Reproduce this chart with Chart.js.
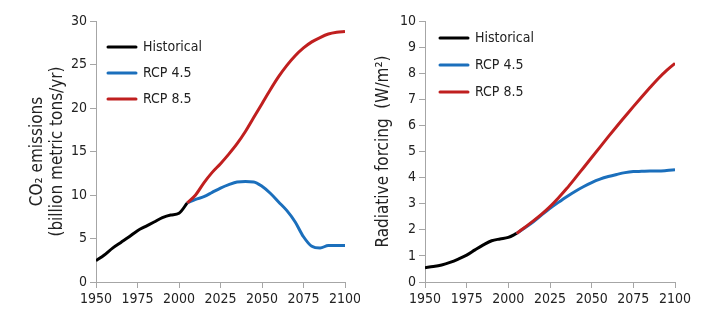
<!DOCTYPE html>
<html>
<head>
<meta charset="utf-8">
<script src="https://cdn.jsdelivr.net/npm/chart.js@4/dist/chart.umd.min.js"></script>
<style>
  body { margin: 0; background: #fff; }
  #wrap { display: flex; width: 710px; height: 321px; }
  canvas { display: block; }
</style>
</head>
<body>
<div id="wrap">
  <canvas id="co2" width="360" height="321"></canvas>
  <canvas id="rf" width="350" height="321"></canvas>
</div>
<script>
// years
var histYears = [1950, 1955, 1960, 1965, 1970, 1975, 1980, 1985, 1990, 1995, 2000, 2005];
var rcpYears = [2005, 2010, 2015, 2020, 2025, 2030, 2035, 2040, 2045, 2050,
                2055, 2060, 2065, 2070, 2075, 2080, 2085, 2090, 2095, 2100];

// CO2 emissions, billion metric tons / yr
var co2Hist = [2.45, 3.1, 3.9, 4.55, 5.2, 5.9, 6.4, 6.9, 7.4, 7.7, 7.9, 9.1];
var co2Rcp45 = [9.1, 9.5, 9.8, 10.3, 10.8, 11.2, 11.5, 11.55, 11.5, 11.0,
                10.2, 9.2, 8.2, 6.9, 5.2, 4.1, 3.9, 4.2, 4.2, 4.2];
var co2Rcp85 = [9.1, 10.0, 11.4, 12.6, 13.6, 14.7, 15.9, 17.3, 18.9, 20.5,
                22.1, 23.6, 24.9, 26.0, 26.9, 27.6, 28.1, 28.5, 28.7, 28.8];

// radiative forcing, W/m2
var rfHist = [0.55, 0.59, 0.65, 0.75, 0.88, 1.03, 1.23, 1.42, 1.58, 1.65, 1.71, 1.86];
var rfRcp45 = [1.86, 2.08, 2.31, 2.57, 2.82, 3.05, 3.27, 3.47, 3.65, 3.81,
               3.94, 4.04, 4.12, 4.19, 4.23, 4.24, 4.25, 4.25, 4.27, 4.30];
var rfRcp85 = [1.86, 2.1, 2.34, 2.6, 2.89, 3.22, 3.58, 3.97, 4.37, 4.77,
               5.17, 5.57, 5.96, 6.34, 6.72, 7.09, 7.45, 7.8, 8.11, 8.38];

var seriesNames = ['Historical', 'RCP 4.5', 'RCP 8.5'];
var seriesColors = ['#000000', '#1b6fbc', '#c01f1f'];
var xTicks = [1950, 1975, 2000, 2025, 2050, 2075, 2100];

var FONT = '"Liberation Sans Narrow", "DejaVu Sans Condensed", "Arial Narrow", sans-serif';
var AXIS = '#a6a6a6';
var TEXT = '#222';

function pts(xs, ys) {
  return xs.map(function (x, i) { return { x: x, y: ys[i] }; });
}

function makeSet(label, i, data) {
  return {
    label: label,
    data: data,
    borderColor: seriesColors[i],
    backgroundColor: seriesColors[i],
    borderWidth: 3,
    pointRadius: 0,
    cubicInterpolationMode: 'monotone',
    fill: false
  };
}

// legend sitting inside the plot, top-left
var insideLegend = {
  id: 'insideLegend',
  afterDraw: function (chart, args, opts) {
    var ctx = chart.ctx;
    var a = chart.chartArea;
    ctx.save();
    ctx.font = '14px ' + FONT;
    ctx.textBaseline = 'middle';
    chart.data.datasets.slice().reverse().forEach(function (ds, i) {
      var y = opts.top + i * opts.gap;
      var x0 = a.left + opts.dx;
      ctx.strokeStyle = ds.borderColor;
      ctx.lineWidth = 3;
      ctx.lineCap = 'round';
      ctx.beginPath();
      ctx.moveTo(x0, y);
      ctx.lineTo(x0 + 28, y);
      ctx.stroke();
      ctx.fillStyle = TEXT;
      ctx.fillText(ds.label, x0 + 35, y);
    });
    ctx.restore();
  }
};

function makeChart(id, sets, yMax, yStep, title, yWidth, padRight, titlePad, legendOpts) {
  return new Chart(document.getElementById(id), {
    type: 'line',
    data: { datasets: sets },
    plugins: [insideLegend],
    options: {
      responsive: false,
      animation: false,
      layout: { padding: { top: 21, right: padRight, bottom: 0, left: 0 } },
      plugins: {
        legend: { display: false },
        tooltip: { enabled: false },
        insideLegend: legendOpts
      },
      scales: {
        x: {
          type: 'linear',
          min: 1950,
          max: 2100,
          afterBuildTicks: function (s) { s.ticks = xTicks.map(function (v) { return { value: v }; }); },
          afterFit: function (s) {
            s.height = 39;
            s.paddingLeft = 0;
            s.paddingRight = 0;
          },
          grid: { drawOnChartArea: false, color: AXIS, tickLength: 6 },
          border: { color: AXIS, width: 1 },
          ticks: {
            color: TEXT, font: { family: FONT, size: 14 }, maxRotation: 0, padding: 3,
            callback: function (v) { return String(v); }
          }
        },
        y: {
          min: 0,
          max: yMax,
          afterFit: function (s) {
            s.width = yWidth;
            s.paddingTop = 0;
            s.paddingBottom = 0;
          },
          grid: { drawOnChartArea: false, color: AXIS, tickLength: 6 },
          border: { color: AXIS, width: 1 },
          ticks: { stepSize: yStep, color: TEXT, font: { family: FONT, size: 14 }, padding: 3 },
          title: {
            display: true,
            text: title,
            color: TEXT,
            font: { family: FONT, size: 17 },
            padding: titlePad
          }
        }
      }
    }
  });
}

makeChart('co2', [
  makeSet(seriesNames[2], 2, pts(rcpYears, co2Rcp85)),
  makeSet(seriesNames[1], 1, pts(rcpYears, co2Rcp45)),
  makeSet(seriesNames[0], 0, pts(histYears, co2Hist))
], 30, 5, ['CO\u2082 emissions', '(billion metric tons/yr)'], 96, 15, { top: 27, bottom: 0 },
  { top: 47, gap: 26, dx: 12 });

makeChart('rf', [
  makeSet(seriesNames[2], 2, pts(rcpYears, rfRcp85)),
  makeSet(seriesNames[1], 1, pts(rcpYears, rfRcp45)),
  makeSet(seriesNames[0], 0, pts(histYears, rfHist))
], 10, 1, 'Radiative forcing  (W/m\u00b2)', 65, 35, { top: 13, bottom: 0 },
  { top: 38, gap: 27, dx: 15 });
</script>
</body>
</html>
